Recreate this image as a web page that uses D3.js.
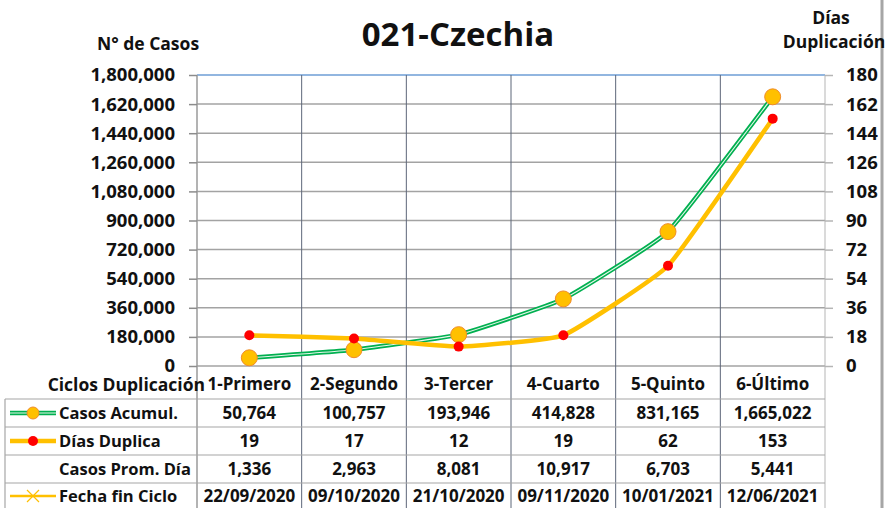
<!DOCTYPE html>
<html><head><meta charset="utf-8">
<script src="https://cdn.jsdelivr.net/npm/d3@7"></script>
<style>
html,body{margin:0;padding:0;background:#fff;}
svg{display:block;}
text{font-family:"Open Sans",Lato,sans-serif;font-weight:bold;fill:#111;}
</style></head>
<body>
<svg id="chart" width="887" height="508"></svg>
<script>
const title = "021-Czechia";
const categories = ["1-Primero","2-Segundo","3-Tercer","4-Cuarto","5-Quinto","6-Último"];
const casosAcumul = [50764, 100757, 193946, 414828, 831165, 1665022];
const diasDuplica = [19, 17, 12, 19, 62, 153];
const casosPromDia = [1336, 2963, 8081, 10917, 6703, 5441];
const fechaFinCiclo = ["22/09/2020","09/10/2020","21/10/2020","09/11/2020","10/01/2021","12/06/2021"];
const leftTicks = [0,180000,360000,540000,720000,900000,1080000,1260000,1440000,1620000,1800000];
const rightTicks = [0,18,36,54,72,90,108,126,144,162,180];
const rowLabels = ["Casos Acumul.","Días Duplica","Casos Prom. Día","Fecha fin Ciclo"];

const svg = d3.select("#chart");
const L = 197, R = 825, T = 75, B = 366;
const fmt = d3.format(",");

const x = d3.scaleBand().domain(categories).range([L, R]);
const yL = d3.scaleLinear().domain([0, 1800000]).range([B, T]);
const yR = d3.scaleLinear().domain([0, 180]).range([B, T]);

// right outer border
svg.append("line").attr("x1",882).attr("x2",882).attr("y1",0).attr("y2",508)
  .attr("stroke","#a6a6a6").attr("stroke-width",3);

// horizontal gridlines
svg.append("g").selectAll("line").data(leftTicks).join("line")
  .attr("x1", L).attr("x2", R)
  .attr("y1", d => yL(d)).attr("y2", d => yL(d))
  .attr("stroke", d => d === 1800000 ? "#6e9ed6" : "#a3a3a3")
  .attr("stroke-width", 1.5);

// vertical category lines (plot + table)
const bounds = categories.map(c => x(c)).concat([R]);
svg.append("g").selectAll("line").data(bounds).join("line")
  .attr("x1", d => d).attr("x2", d => d)
  .attr("y1", T).attr("y2", 508)
  .attr("stroke", (d,i) => i === 0 ? "#9a9a9a" : (i === bounds.length-1 ? "#b5b5b5" : "#5d6679"))
  .attr("stroke-width", (d,i) => i === 0 ? 1.5 : 1);

// left axis
const gL = svg.append("g").attr("transform", `translate(${L},0)`)
  .call(d3.axisLeft(yL).tickValues(leftTicks).tickFormat(fmt).tickSize(8).tickPadding(14));
gL.select(".domain").remove();
gL.selectAll(".tick line").attr("stroke","#8c8c8c").attr("stroke-width",1.5);
gL.selectAll(".tick text").attr("font-size",18.5).attr("font-family","Open Sans").attr("font-weight","bold").attr("fill","#111");

// right axis
const gR = svg.append("g").attr("transform", `translate(${R},0)`)
  .call(d3.axisRight(yR).tickValues(rightTicks).tickSize(8).tickPadding(13));
gR.select(".domain").remove();
gR.selectAll(".tick line").attr("stroke","#b5b5b5").attr("stroke-width",1.5);
gR.selectAll(".tick text").attr("font-size",18.5).attr("font-family","Open Sans").attr("font-weight","bold").attr("fill","#111");

// table horizontal lines
[399, 427, 455, 483].forEach(yy => {
  svg.append("line").attr("x1",5).attr("x2",R).attr("y1",yy).attr("y2",yy)
    .attr("stroke","#a6a6a6").attr("stroke-width",1.2);
});
svg.append("line").attr("x1",5).attr("x2",5).attr("y1",399).attr("y2",508)
  .attr("stroke","#a6a6a6").attr("stroke-width",1.2);

// titles
svg.append("text").attr("x",458).attr("y",46).attr("text-anchor","middle")
  .attr("font-size",33).text(title);
svg.append("text").attr("x",148).attr("y",50).attr("text-anchor","middle")
  .attr("font-size",17.5).text("N° de Casos");
svg.append("text").attr("x",831).attr("y",24).attr("text-anchor","middle")
  .attr("font-size",17.5).text("Días");
svg.append("text").attr("x",834).attr("y",48).attr("text-anchor","middle")
  .attr("font-size",17.5).text("Duplicación");

// lines
const cx = c => x(c) + x.bandwidth()/2;
const curve = d3.curveCardinal.tension(0.65);
const lineCasos = d3.line().x((d,i) => cx(categories[i])).y(d => yL(d)).curve(curve);
const lineDias = d3.line().x((d,i) => cx(categories[i])).y(d => yR(d)).curve(curve);

svg.append("path").attr("d", lineCasos(casosAcumul)).attr("fill","none")
  .attr("stroke","#00b050").attr("stroke-width",4.5);
svg.append("path").attr("d", lineCasos(casosAcumul)).attr("fill","none")
  .attr("stroke","#e6f6ea").attr("stroke-width",1.1);
svg.append("g").selectAll("circle").data(casosAcumul).join("circle")
  .attr("cx",(d,i) => cx(categories[i])).attr("cy", d => yL(d)).attr("r",8)
  .attr("fill","#ffc000").attr("stroke","#f08c2a").attr("stroke-width",1);

svg.append("path").attr("d", lineDias(diasDuplica)).attr("fill","none")
  .attr("stroke","#ffc000").attr("stroke-width",4.5);
svg.append("g").selectAll("circle").data(diasDuplica).join("circle")
  .attr("cx",(d,i) => cx(categories[i])).attr("cy", d => yR(d)).attr("r",5)
  .attr("fill","#ff0000");

// category row
svg.append("g").selectAll("text").data(categories).join("text")
  .attr("x", d => cx(d)).attr("y", 390).attr("text-anchor","middle")
  .attr("font-size",17).text(d => d);
svg.append("text").attr("x",205).attr("y",391).attr("text-anchor","end")
  .attr("font-size",17.5).text("Ciclos Duplicación");

// table rows
const rows = [
  casosAcumul.map(fmt),
  diasDuplica.map(String),
  casosPromDia.map(fmt),
  fechaFinCiclo
];
const rowY = [413, 441, 469, 496];
rows.forEach((vals, r) => {
  svg.append("g").selectAll("text").data(vals).join("text")
    .attr("x", (d,i) => cx(categories[i])).attr("y", rowY[r]).attr("dy","0.35em")
    .attr("text-anchor","middle").attr("font-size", 17).text(d => d);
  svg.append("text").attr("x",59).attr("y",rowY[r]).attr("dy","0.35em")
    .attr("font-size",16.5).text(rowLabels[r]);
});

// legend keys
const k = svg.append("g");
k.append("line").attr("x1",10).attr("x2",56).attr("y1",413).attr("y2",413).attr("stroke","#00b050").attr("stroke-width",4.5);
k.append("line").attr("x1",10).attr("x2",56).attr("y1",413).attr("y2",413).attr("stroke","#e6f6ea").attr("stroke-width",1.1);
k.append("circle").attr("cx",33).attr("cy",413).attr("r",6).attr("fill","#ffc000").attr("stroke","#f08c2a").attr("stroke-width",1);
k.append("line").attr("x1",10).attr("x2",56).attr("y1",441).attr("y2",441).attr("stroke","#ffc000").attr("stroke-width",4.5);
k.append("circle").attr("cx",33).attr("cy",441).attr("r",5).attr("fill","#ff0000");
k.append("line").attr("x1",10).attr("x2",56).attr("y1",496).attr("y2",496).attr("stroke","#ffc000").attr("stroke-width",2.5);
k.append("path").attr("d","M27,490L39,502M39,490L27,502").attr("stroke","#ffc000").attr("stroke-width",1.2);
</script>
</body></html>
